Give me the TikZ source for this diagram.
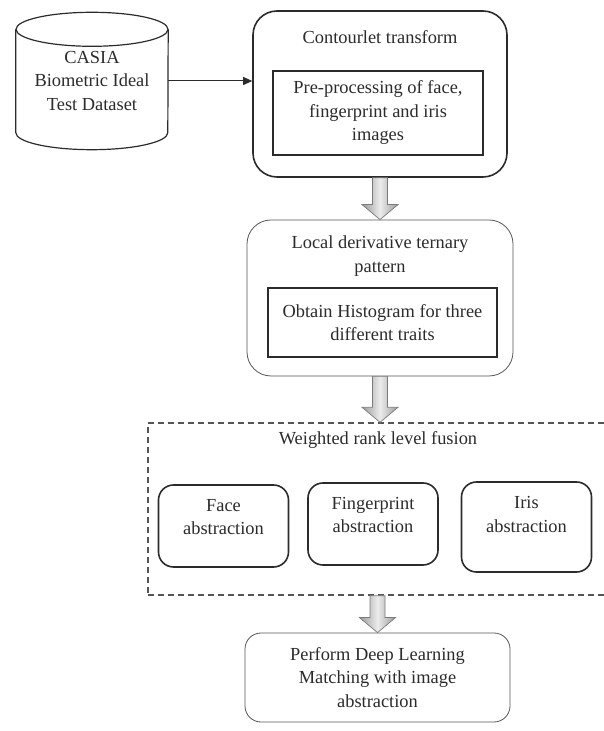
\documentclass[tikz,border=0pt]{standalone}
\usepackage{fontspec}
\setmainfont{Liberation Serif}
\usepackage{xcolor}
\usepackage{tikz}
\usetikzlibrary{arrows.meta,calc}
\definecolor{inkgray}{HTML}{2B2B2B}
\definecolor{framegray}{HTML}{555555}
\definecolor{shaftgray}{HTML}{9A9A9A}

\tikzset{
  every node/.style={font=\fontsize{18.4}{23.5}\selectfont, text=inkgray, align=center},
  outerbox/.style={draw=inkgray, line width=1.6pt, rounded corners=24pt},
  thinbox/.style={draw=framegray, line width=0.8pt, rounded corners=24pt},
  innerbox/.style={draw=inkgray, line width=1.6pt},
  traitbox/.style={draw=inkgray, line width=1.6pt, rounded corners=15pt,
    minimum width=130pt, minimum height=82pt, text depth=18pt},
  blockarr/.style={draw=shaftgray!80!black, line width=0.7pt,
    left color=shaftgray, right color=shaftgray, middle color=white!85!gray}
}

\begin{document}
\begin{tikzpicture}[x=1pt, y=1pt]
      \useasboundingbox (0,0) rectangle (603,731);

      % dataset
      \node[minimum width=152pt, minimum height=103pt, inner sep=0pt] (db) at (92,650)
        {CASIA\\Biometric Ideal\\Test Dataset};
      \draw[inkgray, line width=1.2pt]
        (db.north west) -- (db.south west)
        arc[start angle=180, end angle=360, x radius=76, y radius=17]
        -- (db.north east);
      \draw[inkgray, line width=1.2pt] (db.north) ellipse[x radius=76, y radius=17];

      % contourlet stage
      \node[outerbox, minimum width=254pt, minimum height=166pt] (ct) at (380,637) {};
      \node (cttitle) at (380,694) {Contourlet transform};
      \node[innerbox, minimum width=210pt, minimum height=84pt] (pre) at (378,618)
        {Pre-processing of face,\\fingerprint and iris\\images};

      % ldtp stage
      \node[thinbox, minimum width=266pt, minimum height=156pt] (ldp) at (380,433) {};
      \node (ldptitle) at (380,475) {Local derivative ternary\\pattern};
      \node[innerbox, minimum width=229pt, minimum height=69pt] (hist) at (382.5,408.5)
        {Obtain Histogram for three\\different traits};

      % fusion stage
      \node[
        draw=framegray, dashed, dash pattern=on 6pt off 4pt, line width=1.4pt,
        minimum width=462pt, minimum height=172pt
      ] (fusion) at (379,222) {};
      \node (fusiontitle) at (378,291) {Weighted rank level fusion};
      \node[traitbox] (face) at (223.5,205) {Face\\abstraction};
      \node[traitbox] (finger) at (373,207) {Fingerprint\\abstraction};
      \node[traitbox, minimum height=90pt, text depth=25pt] (iris) at (526.5,204)
        {Iris\\abstraction};

      % matching
      \node[thinbox, rounded corners=16pt, minimum width=265pt, minimum height=89pt] (match)
        at (377.5,53.5) {Perform Deep Learning\\Matching with image\\abstraction};

      % connectors
      \draw[inkgray, line width=1pt, -{Triangle[length=9pt,width=8pt]}]
        (db.east) -- (db.east -| ct.west);
      \foreach \xr/\src/\dst in {ct/ct/ldp, ldp/ldp/fusion, match/fusion/match}
        \path[blockarr] let \p1=(\xr.south), \p2=(\src.south), \p3=(\dst.north) in
          (\x1-7.5pt,\y2) -- (\x1-7.5pt,\y3+15pt) -- (\x1-18pt,\y3+15pt) -- (\x1,\y3)
          -- (\x1+18pt,\y3+15pt) -- (\x1+7.5pt,\y3+15pt) -- (\x1+7.5pt,\y2) -- cycle;
    \end{tikzpicture}
\end{document}
